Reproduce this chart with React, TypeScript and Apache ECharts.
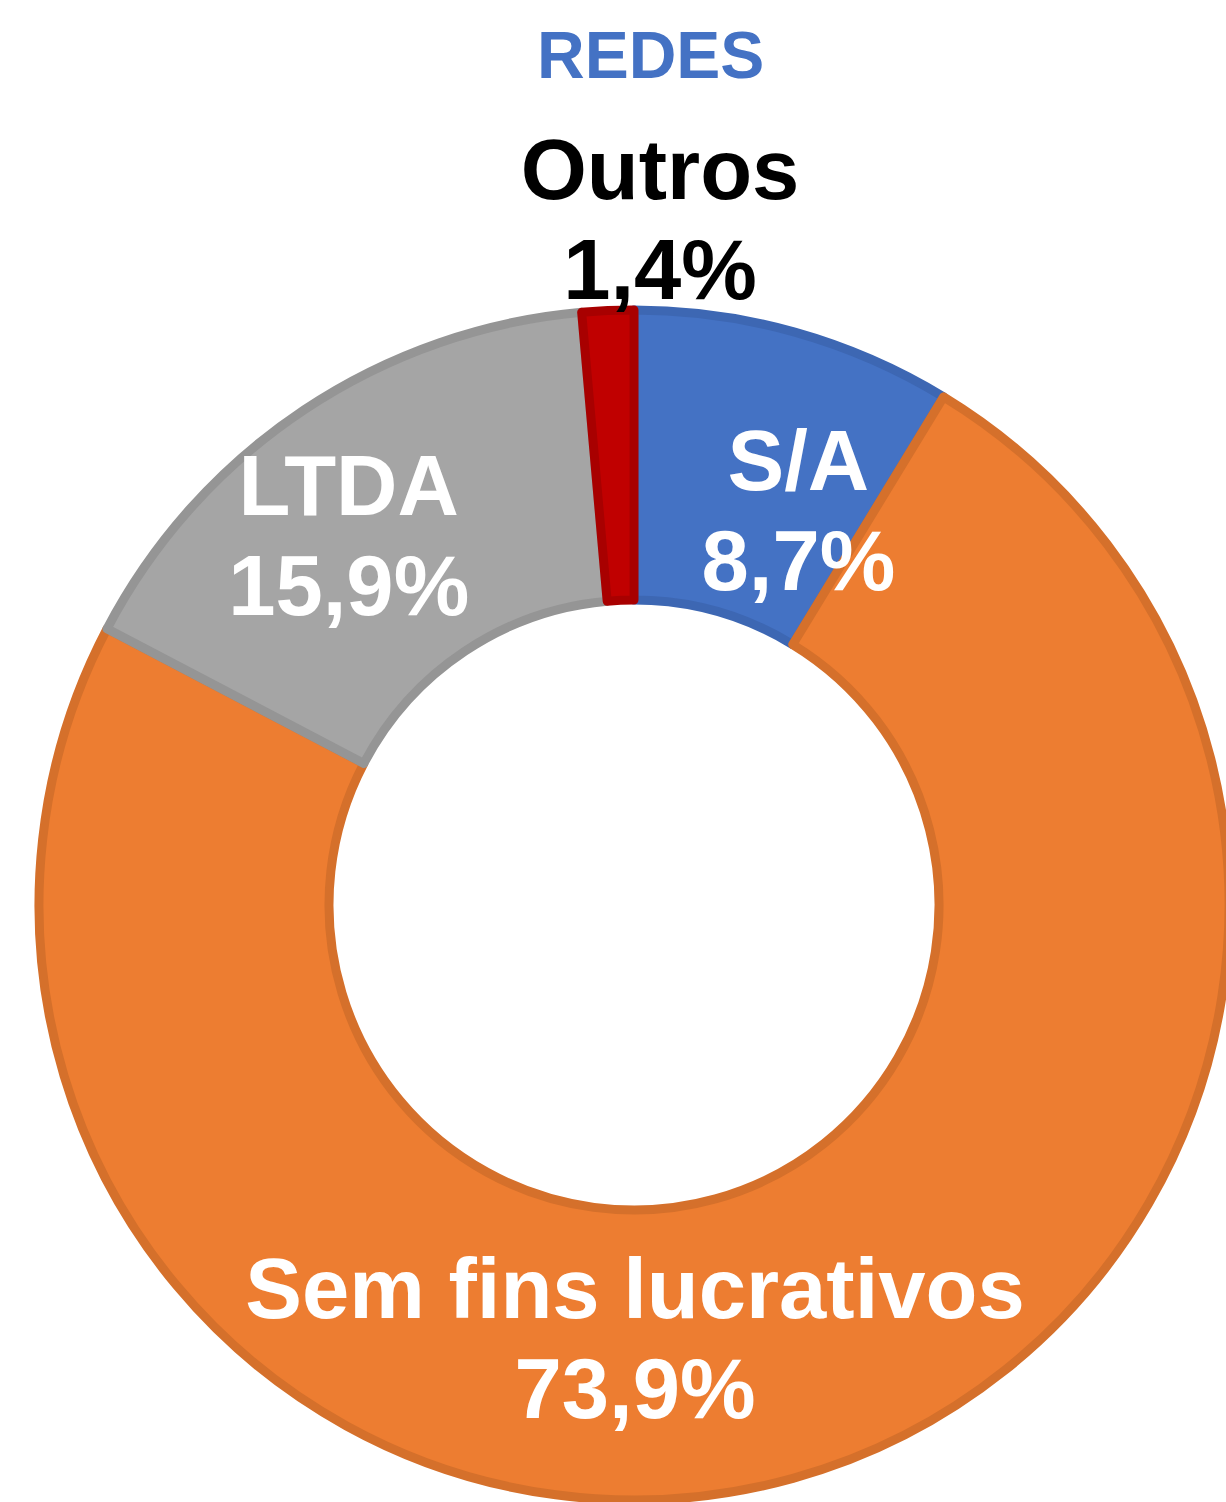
import React, { useEffect, useRef } from "react";
import * as echarts from "echarts";

const categories = ["S/A", "Sem fins lucrativos", "LTDA", "Outros"];
const values = [8.7, 73.9, 15.9, 1.4];
const fillColors = ["#4472C4", "#ED7D31", "#A5A5A5", "#C00000"];
const borderColors = ["#3D67B3", "#D5702B", "#959595", "#A80000"];
const labelColors = ["#FFFFFF", "#FFFFFF", "#FFFFFF", "#000000"];
const labelShifts = [
  [42, 42],
  [-120, -3],
  [-34, 7],
  [46, -233],
];

const fmt = (v: number) => v.toFixed(1).replace(".", ",") + "%";

export default function App() {
  const ref = useRef<HTMLDivElement>(null);
  useEffect(() => {
    document.body.style.margin = "0";
    const chart = echarts.init(ref.current!, null, { renderer: "svg" });
    chart.setOption({
      animation: false,
      backgroundColor: "#FFFFFF",
      title: {
        text: "REDES",
        left: 532,
        top: 17,
        textStyle: {
          fontFamily: "Liberation Sans",
          fontSize: 66,
          fontWeight: "bold",
          color: "#4472C4",
        },
      },
      series: [
        {
          type: "pie",
          center: [634, 905],
          radius: [305, 595],
          startAngle: 90,
          clockwise: true,
          avoidLabelOverlap: false,
          data: categories.map((name, i) => ({
            name,
            value: values[i],
            itemStyle: {
              color: fillColors[i],
              borderColor: borderColors[i],
              borderWidth: 9,
            },
            label: { color: labelColors[i] },
          })),
          label: {
            show: true,
            position: "inside",
            formatter: (p: any) => `${p.name}\n${fmt(p.value)}`,
            fontFamily: "Liberation Sans",
            fontSize: 85,
            fontWeight: "bold",
            lineHeight: 100,
            align: "center",
          },
          labelLine: { show: false },
          labelLayout: (p: any) => ({
            dx: labelShifts[p.dataIndex][0],
            dy: labelShifts[p.dataIndex][1],
          }),
          emphasis: { disabled: true },
        },
      ],
    });
    return () => chart.dispose();
  }, []);
  return (
    <div
      ref={ref}
      style={{ position: "absolute", left: 0, top: 0, width: 1226, height: 1502 }}
    />
  );
}
